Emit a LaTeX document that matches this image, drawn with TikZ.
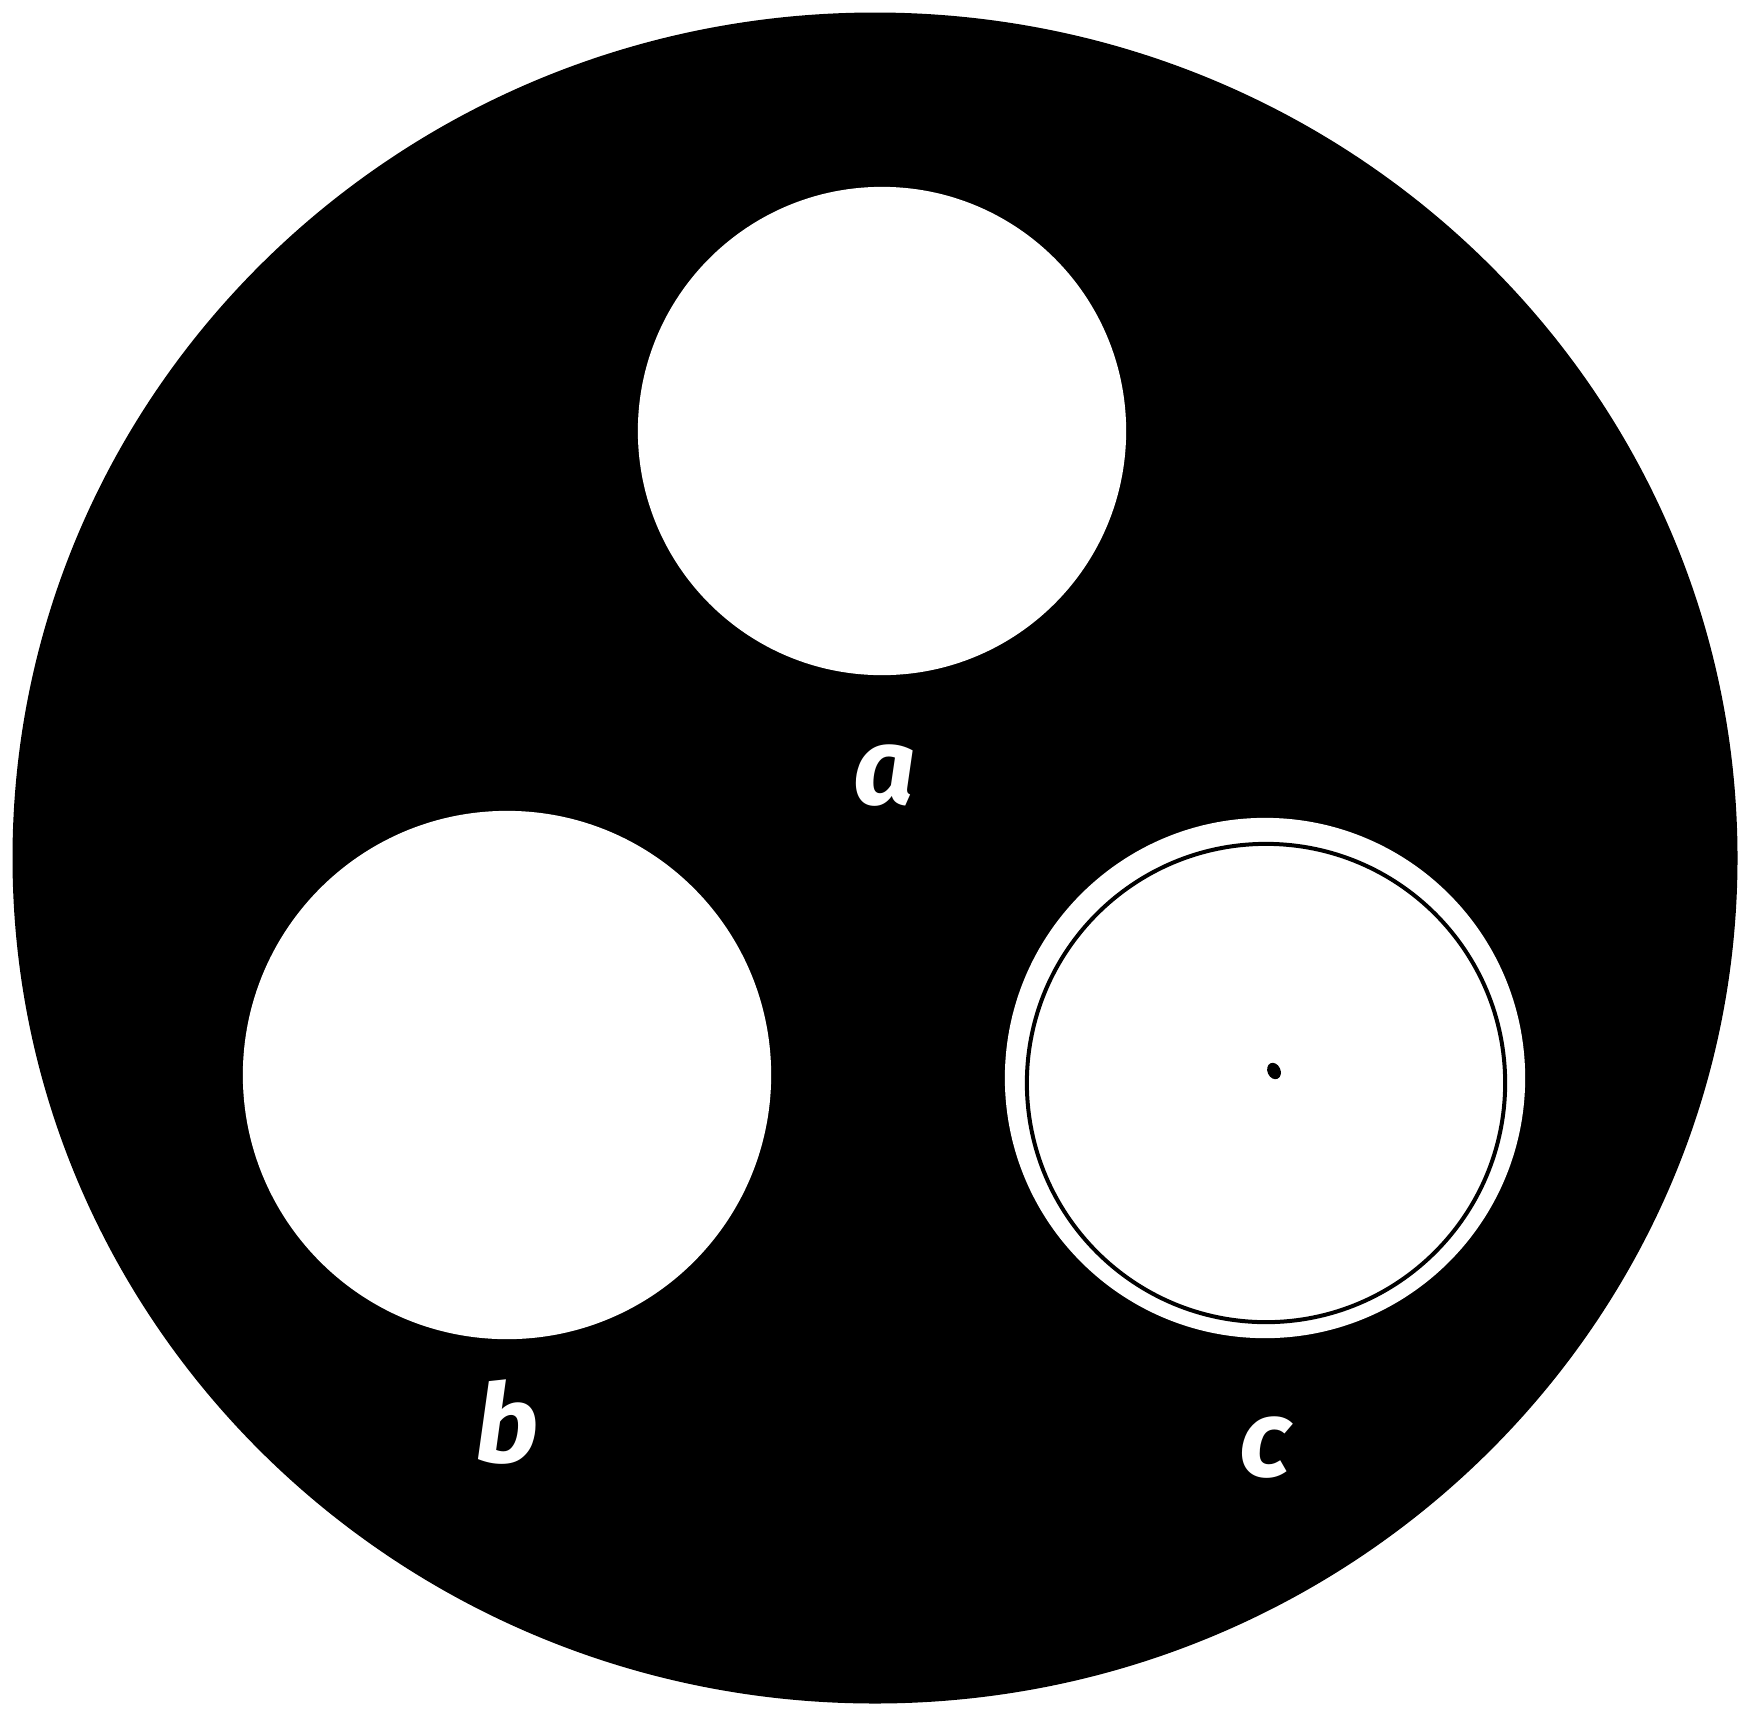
\documentclass[tikz,border=0pt]{standalone}
\usepackage{fontspec}
\setmainfont{Fira Sans}
\usepackage{tikz}
\usetikzlibrary{positioning, shapes.geometric}

\begin{document}
\begin{tikzpicture}[x=0.01cm, y=-0.01cm,
  hole/.style={circle, fill=white, inner sep=0pt},
  holelabel/.style={text=white, inner sep=0pt, font=\fontsize{31}{31}\selectfont\bfseries\itshape}]
  \useasboundingbox[fill=white] (0,0) rectangle (1740,1712);
  \node[ellipse, fill=black, inner sep=0pt, minimum width=17.24cm, minimum height=16.9cm] (plate) at (875,858) {};

  \node[hole, minimum size=4.88cm] (holea) at (882,431) {};
  \node[hole, minimum size=5.28cm] (holeb) at (507,1075) {};
  \node[hole, minimum size=5.2cm] (holec) at (1265,1078) {};
  \node[circle, draw=black, line width=0.04cm, inner sep=0pt, minimum size=4.78cm] (ringc) at (1266,1083) {};
  \node[ellipse, fill=black, inner sep=0pt, minimum width=0.13cm, minimum height=0.17cm, rotate=25] (dotc) at (1274,1071) {};

  \node[holelabel, below=0.68cm of holea, xshift=0.03cm] (laba) {a};
  \node[holelabel, below=0.39cm of holeb] (labb) {b};
  \node[holelabel, below=0.77cm of holec] (labc) {c};
\end{tikzpicture}
\end{document}
